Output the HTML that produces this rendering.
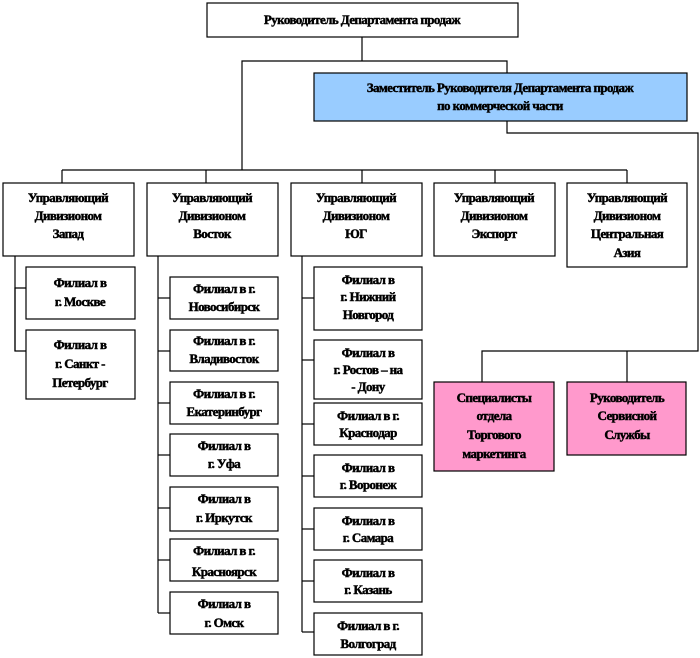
<!DOCTYPE html>
<html><head><meta charset="utf-8"><style>
html,body{margin:0;padding:0;background:#fff;}
svg{display:block;}
text{font-family:"Liberation Serif","DejaVu Serif",serif;font-weight:bold;font-size:13px;fill:#000;stroke:#000;stroke-width:0.45px;text-anchor:middle;letter-spacing:-0.6px;}
rect{stroke:#000;stroke-width:1.2;}
line,polyline{stroke:#000;stroke-width:1.2;fill:none;}
</style></head><body>
<svg width="700" height="658" viewBox="0 0 700 658" xmlns="http://www.w3.org/2000/svg">
<line x1="362" y1="37" x2="362" y2="61"/>
<polyline points="507,73 507,61 242,61 242,170"/>
<polyline points="507,121 507,133 698,133 698,351 482,351 482,382"/>
<line x1="627" y1="351" x2="627" y2="382"/>
<line x1="62" y1="170" x2="627" y2="170"/>
<line x1="62" y1="170" x2="62" y2="183"/>
<line x1="206" y1="170" x2="206" y2="183"/>
<line x1="362" y1="170" x2="362" y2="183"/>
<line x1="495" y1="170" x2="495" y2="183"/>
<line x1="627" y1="170" x2="627" y2="183"/>
<polyline points="26,288 15,288 15,351 26,351"/>
<line x1="15" y1="256" x2="15" y2="351"/>
<line x1="158" y1="256" x2="158" y2="613"/>
<line x1="302" y1="256" x2="302" y2="632"/>
<g>
<line x1="158" y1="298" x2="170" y2="298"/><line x1="158" y1="351" x2="170" y2="351"/>
<line x1="158" y1="403" x2="170" y2="403"/><line x1="158" y1="455" x2="170" y2="455"/>
<line x1="158" y1="508" x2="170" y2="508"/><line x1="158" y1="560" x2="170" y2="560"/>
<line x1="158" y1="613" x2="170" y2="613"/>
<line x1="302" y1="298" x2="314" y2="298"/><line x1="302" y1="360" x2="314" y2="360"/>
<line x1="302" y1="424" x2="314" y2="424"/><line x1="302" y1="476" x2="314" y2="476"/>
<line x1="302" y1="529" x2="314" y2="529"/><line x1="302" y1="581" x2="314" y2="581"/>
<line x1="302" y1="632" x2="314" y2="632"/>
</g>
<rect x="207" y="3" width="311" height="34" fill="#fff"/>
<text x="362" y="24">Руководитель Департамента продаж</text>
<rect x="314" y="73" width="373" height="48" fill="#99ccff"/>
<text x="500" y="92">Заместитель Руководителя Департамента продаж</text>
<text x="500" y="110">по коммерческой части</text>
<rect x="3" y="183" width="131" height="73" fill="#fff"/>
<text x="68" y="202">Управляющий</text><text x="68" y="220">Дивизионом</text><text x="68" y="238">Запад</text>
<rect x="147" y="183" width="131" height="73" fill="#fff"/>
<text x="212" y="202">Управляющий</text><text x="212" y="220">Дивизионом</text><text x="212" y="238">Восток</text>
<rect x="291" y="183" width="131" height="73" fill="#fff"/>
<text x="356" y="202">Управляющий</text><text x="356" y="220">Дивизионом</text><text x="356" y="238">ЮГ</text>
<rect x="434" y="183" width="121" height="73" fill="#fff"/>
<text x="494" y="202">Управляющий</text><text x="494" y="220">Дивизионом</text><text x="494" y="238">Экспорт</text>
<rect x="567" y="183" width="120" height="84" fill="#fff"/>
<text x="627" y="202">Управляющий</text><text x="627" y="220">Дивизионом</text><text x="627" y="238">Центральная</text><text x="627" y="257">Азия</text>
<rect x="26" y="267" width="109" height="52" fill="#fff"/>
<text x="80" y="287">Филиал в</text><text x="80" y="306">г. Москве</text>
<rect x="26" y="330" width="109" height="69" fill="#fff"/>
<text x="80" y="349">Филиал в</text><text x="80" y="368">г. Санкт -</text><text x="80" y="387">Петербург</text>
<g>
<rect x="170" y="277" width="108" height="42" fill="#fff"/><text x="224" y="293">Филиал в г.</text><text x="224" y="311">Новосибирск</text>
<rect x="170" y="330" width="108" height="41" fill="#fff"/><text x="224" y="345">Филиал в г.</text><text x="224" y="363">Владивосток</text>
<rect x="170" y="382" width="108" height="42" fill="#fff"/><text x="224" y="398">Филиал в г.</text><text x="224" y="416">Екатеринбург</text>
<rect x="170" y="434" width="108" height="42" fill="#fff"/><text x="224" y="450">Филиал в</text><text x="224" y="468">г. Уфа</text>
<rect x="170" y="487" width="108" height="44" fill="#fff"/><text x="224" y="503">Филиал в</text><text x="224" y="522">г. Иркутск</text>
<rect x="170" y="539" width="108" height="42" fill="#fff"/><text x="224" y="555">Филиал в г.</text><text x="224" y="576">Красноярск</text>
<rect x="170" y="592" width="108" height="42" fill="#fff"/><text x="224" y="608">Филиал в</text><text x="224" y="627">г. Омск</text>
</g>
<g>
<rect x="314" y="267" width="108" height="63" fill="#fff"/><text x="368" y="284">Филиал в</text><text x="368" y="301">г. Нижний</text><text x="368" y="319">Новгород</text>
<rect x="314" y="340" width="108" height="59" fill="#fff"/><text x="368" y="357">Филиал в</text><text x="368" y="374">г. Ростов – на</text><text x="368" y="391">- Дону</text>
<rect x="314" y="403" width="108" height="42" fill="#fff"/><text x="368" y="420">Филиал в г.</text><text x="368" y="437">Краснодар</text>
<rect x="314" y="455" width="108" height="42" fill="#fff"/><text x="368" y="472">Филиал в</text><text x="368" y="489">г. Воронеж</text>
<rect x="314" y="508" width="108" height="42" fill="#fff"/><text x="368" y="525">Филиал в</text><text x="368" y="542">г. Самара</text>
<rect x="314" y="560" width="108" height="42" fill="#fff"/><text x="368" y="577">Филиал в</text><text x="368" y="594">г. Казань</text>
<rect x="314" y="613" width="108" height="42" fill="#fff"/><text x="368" y="630">Филиал в г.</text><text x="368" y="648">Волгоград</text>
</g>
<rect x="434" y="382" width="120" height="89" fill="#ff99cc"/>
<text x="494" y="402">Специалисты</text><text x="494" y="420">отдела</text><text x="494" y="439">Торгового</text><text x="494" y="458">маркетинга</text>
<rect x="567" y="382" width="119" height="73" fill="#ff99cc"/>
<text x="627" y="402">Руководитель</text><text x="627" y="420">Сервисной</text><text x="627" y="439">Службы</text>
</svg>
</body></html>
